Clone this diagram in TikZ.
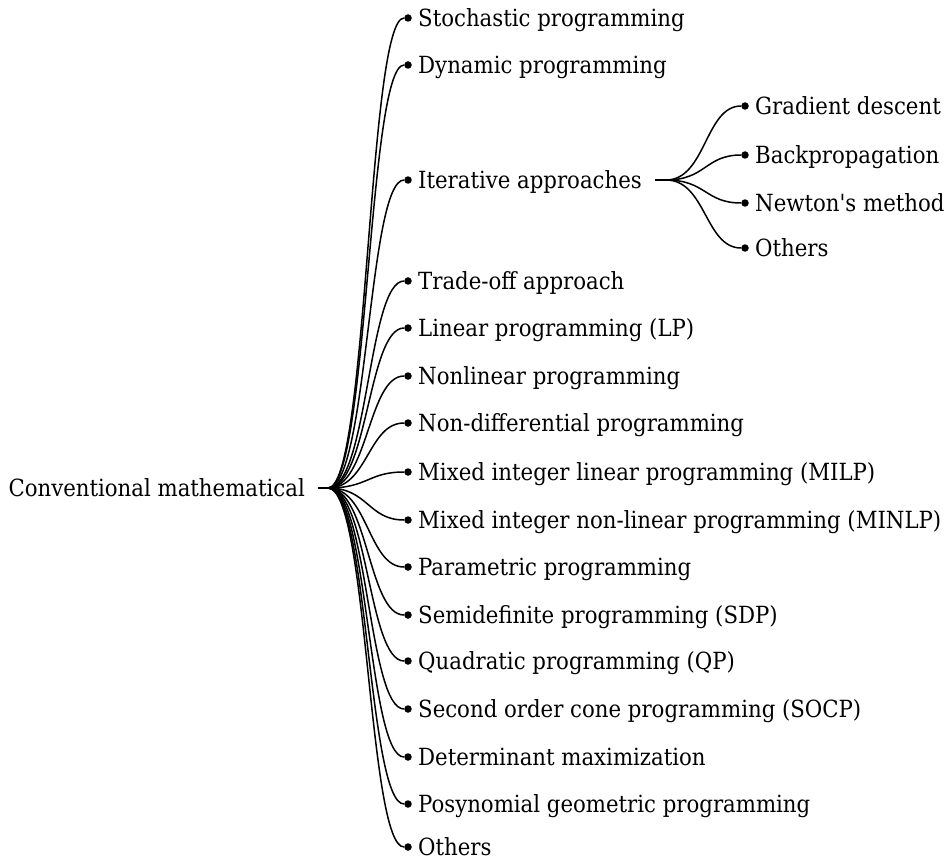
\documentclass[tikz,border=0pt]{standalone}
\usepackage{fontspec}
\setmainfont{DejaVu Serif Condensed}
\newlength\widestlabel
% a straight apostrophe, set as a glyph so the TeX ligature mapping leaves it alone
\newcommand\plainquote{\XeTeXglyph\XeTeXcharglyph"0027\relax}
\begin{document}
% size the labels so the longest one spans 523 units
\settowidth\widestlabel{\fontsize{20pt}{24pt}\selectfont Mixed integer non-linear programming (MINLP)}%
\pgfmathsetmacro\labelsize{20*523/\widestlabel}%
\pgfmathsetmacro\capheight{0.729*\labelsize}%
\begin{tikzpicture}[x=1pt,y=-1pt]
\tikzset{
  label text/.style={font=\fontsize{\labelsize}{\labelsize}\selectfont,
    inner sep=0pt, text height=\capheight pt, text depth=0pt},
  leaf/.style={label text, anchor=west},
  dot/.style={circle, fill=black, inner sep=0pt, minimum size=7.5pt},
  link/.style={line width=1.5pt, black},
}
\useasboundingbox (0,0) rectangle (949,861);

% root
\node[label text, anchor=east] (root) at (305,488) {Conventional mathematical};
\coordinate (rs) at (318,488);
\coordinate (r) at (328,488);
\draw[link] (rs) -- (r);

% first-level leaves: name / y position / label
\foreach \n/\y/\t in {
  a/18/Stochastic programming,
  b/65/Dynamic programming,
  c/180/Iterative approaches,
  d/281/Trade-off approach,
  e/328/Linear programming (LP),
  f/376/Nonlinear programming,
  g/423/Non-differential programming,
  h/472/Mixed integer linear programming (MILP),
  i/520/Mixed integer non-linear programming (MINLP),
  j/567/Parametric programming,
  k/615/Semidefinite programming (SDP),
  l/661/Quadratic programming (QP),
  m/709/Second order cone programming (SOCP),
  n/757/Determinant maximization,
  o/804/Posynomial geometric programming,
  p/847/Others}{
  \node[dot] (d\n) at (408,\y) {};
  \node[leaf] (t\n) at (418,\y) {\t};
  \draw[link] (r) .. controls +(40,0) and +(-40,0) .. (d\n);
}

% second level under the iterative approaches
\coordinate (cs) at (655,180);
\coordinate (c) at (666,180);
\draw[link] (cs) -- (c);
\foreach \n/\y/\t in {
  q/106/Gradient descent,
  s/155/Backpropagation,
  u/203/Newton\plainquote s method,
  w/248/Others}{
  \node[dot] (d\n) at (745,\y) {};
  \node[leaf] (t\n) at (755,\y) {\t};
  \draw[link] (c) .. controls +(40,0) and +(-40,0) .. (d\n);
}
\end{tikzpicture}
\end{document}
